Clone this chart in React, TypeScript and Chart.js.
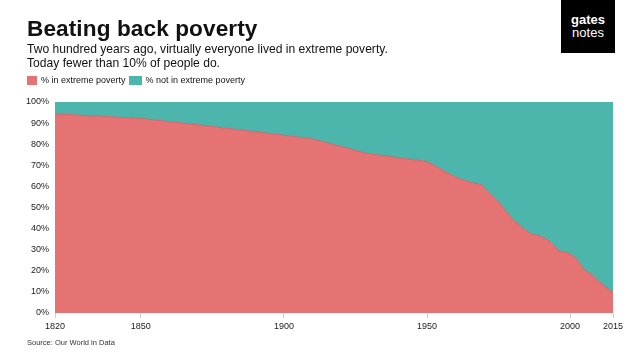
import React, { useEffect, useRef } from "react";
import { Chart, registerables } from "chart.js";

Chart.register(...registerables);

const years = [1820, 1850, 1870, 1890, 1910, 1929, 1950, 1960, 1965, 1969, 1975, 1980, 1986, 1990, 1993, 1996, 1999, 2002, 2005, 2008, 2010, 2015];
const inPoverty = [94.4, 92.2, 89.2, 85.9, 82.5, 75.6, 71.8, 64.3, 62.0, 60.8, 52.6, 44.2, 37.6, 36.3, 33.9, 29.5, 28.7, 26.1, 20.5, 17.8, 15.0, 9.6];
const notInPoverty = inPoverty.map((p) => Math.round((100 - p) * 10) / 10);
const xTickValues = [1820, 1850, 1900, 1950, 2000, 2015];
const yTickStep = 10;

const seriesNames = ["% in extreme poverty", "% not in extreme poverty"];
const RED = "#E57373";
const TEAL = "#4DB6AC";
const FONT = "'Liberation Sans', Arial, Helvetica, sans-serif";

export default function App() {
  const ref = useRef<HTMLCanvasElement | null>(null);

  useEffect(() => {
    document.body.style.margin = "0";
    const ctx = ref.current!;
    const chart = new Chart(ctx, {
      type: "line",
      data: {
        datasets: [
          {
            label: seriesNames[0],
            data: years.map((y, i) => ({ x: y, y: inPoverty[i] })),
            backgroundColor: RED,
            borderColor: "#c9676a",
            borderWidth: 1,
            fill: "origin",
            pointRadius: 0,
            tension: 0,
          },
          {
            label: seriesNames[1],
            data: years.map((y, i) => ({ x: y, y: notInPoverty[i] })),
            backgroundColor: TEAL,
            borderColor: TEAL,
            borderWidth: 0,
            fill: "-1",
            pointRadius: 0,
            tension: 0,
          },
        ],
      },
      options: {
        animation: false,
        responsive: false,
        layout: { padding: { left: 0, top: 102, right: 27, bottom: 0 } },
        plugins: {
          legend: { display: false },
          tooltip: { enabled: false },
          title: { display: false },
        },
        scales: {
          x: {
            type: "linear",
            min: 1820,
            max: 2015,
            afterBuildTicks: (scale: any) => {
              scale.ticks = xTickValues.map((v) => ({ value: v }));
            },
            afterFit: (scale: any) => {
              scale.height = 47;
            },
            grid: {
              drawOnChartArea: false,
              drawTicks: true,
              tickLength: 5,
              color: "#cfcfcf",
            },
            border: { display: false },
            ticks: {
              autoSkip: false,
              maxRotation: 0,
              padding: 3,
              color: "#1a1a1a",
              font: { family: FONT, size: 9 },
              callback: (v: any) => String(v),
            },
          },
          y: {
            stacked: true,
            min: 0,
            max: 100,
            afterFit: (scale: any) => {
              scale.width = 55;
            },
            grid: { display: false, drawTicks: false },
            border: { display: false },
            ticks: {
              stepSize: yTickStep,
              padding: 6,
              color: "#1a1a1a",
              font: { family: FONT, size: 9 },
              callback: (v: any) => v + "%",
            },
          },
        },
      },
    });
    return () => chart.destroy();
  }, []);

  const abs = (s: React.CSSProperties): React.CSSProperties => ({ position: "absolute", whiteSpace: "nowrap", ...s });

  return (
    <div style={{ position: "absolute", left: 0, top: 0, width: 640, height: 360, background: "#fff", fontFamily: FONT, color: "#111", overflow: "hidden" }}>
      <canvas ref={ref} width={640} height={360} style={{ position: "absolute", left: 0, top: 0 }} />
      <div style={abs({ left: 27, top: 16, fontSize: 22.6, fontWeight: 700, lineHeight: "26px", letterSpacing: "0.1px" })}>Beating back poverty</div>
      <div style={abs({ left: 27, top: 43, fontSize: 12.1, lineHeight: "13.5px" })}>
        Two hundred years ago, virtually everyone lived in extreme poverty.
        <br />
        Today fewer than 10% of people do.
      </div>
      <div style={abs({ left: 27, top: 75, fontSize: 9, lineHeight: "11px", display: "flex", alignItems: "center" })}>
        <span style={{ display: "inline-block", width: 10, height: 9, background: RED, marginRight: 4 }} />
        <span>{seriesNames[0]}</span>
        <span style={{ display: "inline-block", width: 13, height: 9, background: TEAL, marginLeft: 3, marginRight: 4 }} />
        <span>{seriesNames[1]}</span>
      </div>
      <div style={abs({ left: 561, top: 0, width: 54, height: 53, background: "#000", color: "#fff", textAlign: "center" })}>
        <div style={{ fontSize: 13, fontWeight: 700, lineHeight: "13px", marginTop: 13 }}>gates</div>
        <div style={{ fontSize: 13, lineHeight: "13px" }}>notes</div>
      </div>
      <div style={abs({ left: 27, top: 338, fontSize: 7.5, lineHeight: "9px", color: "#333" })}>Source: Our World in Data</div>
    </div>
  );
}
